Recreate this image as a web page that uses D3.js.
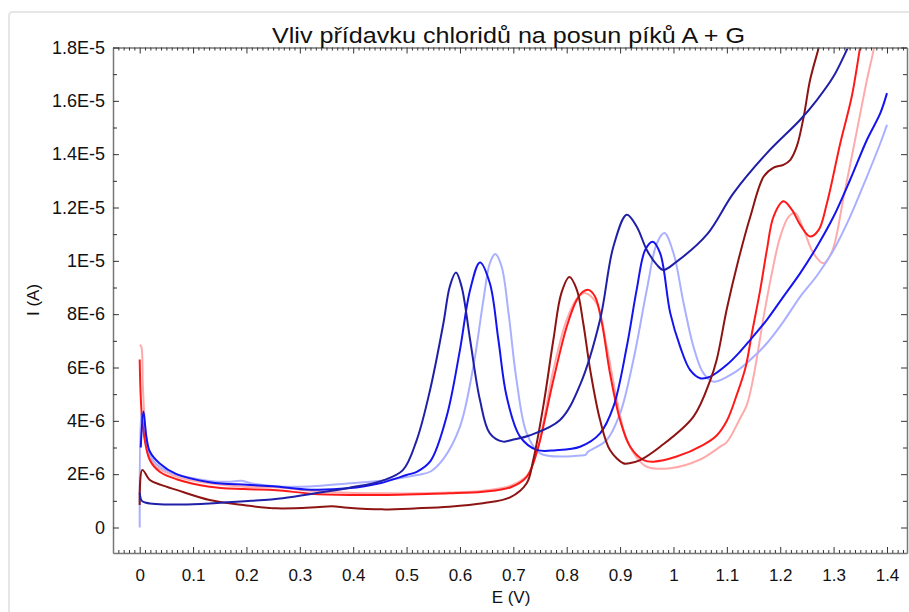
<!DOCTYPE html>
<html>
<head>
<meta charset="utf-8">
<script src="https://cdn.jsdelivr.net/npm/d3@7/dist/d3.min.js"></script>
<style>
  html, body { margin: 0; padding: 0; background: #fff; }
  svg { display: block; }
</style>
</head>
<body>
<svg id="chart" width="909" height="612"></svg>
<script>
// ---- DATA (potential E in V, current in units of 1E-6 A) ----
const titleText = "Vliv přídavku chloridů na posun píků A + G";
const xLabelText = "E (V)";
const yLabelText = "I (A)";

const xTicks = [0, 0.1, 0.2, 0.3, 0.4, 0.5, 0.6, 0.7, 0.8, 0.9, 1, 1.1, 1.2, 1.3, 1.4];
const xTickLabels = ["0", "0.1", "0.2", "0.3", "0.4", "0.5", "0.6", "0.7", "0.8", "0.9", "1", "1.1", "1.2", "1.3", "1.4"];
const yTicks = [0, 2, 4, 6, 8, 10, 12, 14, 16, 18];
const yTickLabels = ["0", "2E-6", "4E-6", "6E-6", "8E-6", "1E-5", "1.2E-5", "1.4E-5", "1.6E-5", "1.8E-5"];

const seriesNames = ["navy", "blue", "lightblue", "darkred", "red", "pink"];
const seriesColors = ["#1f1fa8", "#1414f0", "#aab0ff", "#8e1414", "#ff1a1a", "#ffaaaa"];

const navyE = [0, 0.004, 0.012, 0.03, 0.08, 0.145, 0.21, 0.268, 0.332, 0.393, 0.455, 0.493, 0.519, 0.544, 0.569, 0.581, 0.5925, 0.603, 0.619, 0.6375, 0.656, 0.681, 0.70, 0.73, 0.7875, 0.825, 0.8625, 0.8875, 0.9125, 0.931, 0.95, 0.969, 0.981, 1.006, 1.0625, 1.1125, 1.175, 1.2375, 1.269, 1.3, 1.328, 1.34];
const navyI = [1.3, 1.0, 0.93, 0.88, 0.86, 0.92, 1.0, 1.1, 1.29, 1.49, 1.76, 2.15, 3.28, 5.16, 7.66, 9.04, 9.56, 9.04, 7.04, 4.78, 3.53, 3.22, 3.3, 3.45, 4.03, 5.35, 7.79, 10.54, 11.73, 11.29, 10.41, 9.85, 9.66, 9.97, 10.98, 12.54, 14.04, 15.29, 16.04, 16.92, 18.04, 18.5];

const blueE = [0.002, 0.007, 0.0125, 0.019, 0.0375, 0.069, 0.131, 0.2, 0.25, 0.32, 0.39, 0.45, 0.5, 0.52, 0.545, 0.575, 0.6, 0.619, 0.6375, 0.656, 0.672, 0.6875, 0.7125, 0.744, 0.78, 0.825, 0.8625, 0.8875, 0.9125, 0.931, 0.947, 0.961, 0.975, 0.994, 1.0125, 1.031, 1.05, 1.069, 1.1, 1.125, 1.144, 1.175, 1.206, 1.2375, 1.269, 1.3, 1.331, 1.3625, 1.3875, 1.4];
const blueI = [3.0, 4.35, 3.4, 2.85, 2.4, 2.0, 1.7, 1.6, 1.55, 1.42, 1.47, 1.66, 1.97, 2.1, 2.5, 4.16, 6.66, 8.91, 9.94, 9.16, 7.04, 4.91, 3.41, 2.91, 2.9, 3.03, 3.53, 4.53, 6.78, 8.91, 10.41, 10.72, 10.29, 8.04, 6.78, 5.91, 5.6, 5.66, 6.1, 6.6, 7.04, 7.79, 8.66, 9.54, 10.54, 11.66, 13.04, 14.54, 15.54, 16.29];

const lightblueE = [0, 0.003, 0.008, 0.015, 0.03, 0.06, 0.1, 0.145, 0.17, 0.19, 0.205, 0.22, 0.268, 0.332, 0.393, 0.455, 0.52, 0.545, 0.57, 0.6, 0.625, 0.644, 0.656, 0.666, 0.678, 0.691, 0.706, 0.725, 0.75, 0.8, 0.825, 0.835, 0.84, 0.875, 0.9, 0.925, 0.95, 0.969, 0.983, 1.0, 1.019, 1.0375, 1.056, 1.075, 1.1125, 1.144, 1.175, 1.206, 1.2375, 1.269, 1.3, 1.331, 1.3625, 1.3875, 1.4];
const lightblueI = [0, 4.3, 3.6, 2.9, 2.4, 2.05, 1.85, 1.72, 1.72, 1.75, 1.68, 1.62, 1.53, 1.56, 1.66, 1.76, 1.97, 2.1, 2.6, 3.78, 6.03, 8.54, 9.91, 10.26, 9.79, 8.04, 5.53, 3.53, 2.78, 2.66, 2.7, 2.72, 2.84, 3.28, 4.28, 6.29, 8.91, 10.66, 11.04, 10.29, 8.41, 6.78, 5.79, 5.47, 5.79, 6.29, 6.91, 7.72, 8.66, 9.45, 10.41, 11.66, 13.16, 14.41, 15.1];

const darkredE = [0, 0.005, 0.019, 0.04, 0.069, 0.131, 0.194, 0.256, 0.33, 0.36, 0.39, 0.455, 0.52, 0.58, 0.643, 0.694, 0.725, 0.737, 0.756, 0.775, 0.79, 0.805, 0.819, 0.831, 0.844, 0.8625, 0.881, 0.906, 0.915, 0.9375, 0.975, 1.0375, 1.069, 1.081, 1.1, 1.12, 1.144, 1.169, 1.1875, 1.206, 1.219, 1.231, 1.244, 1.256, 1.272, 1.28];
const darkredI = [0.84, 2.16, 1.78, 1.6, 1.41, 1.03, 0.84, 0.72, 0.76, 0.8, 0.74, 0.68, 0.72, 0.78, 0.91, 1.13, 1.66, 2.5, 4.53, 7.04, 8.79, 9.39, 8.91, 7.66, 5.91, 4.03, 2.91, 2.41, 2.4, 2.53, 3.03, 4.16, 5.53, 6.29, 8.2, 9.9, 11.66, 13.16, 13.5, 13.6, 13.79, 14.29, 15.41, 16.79, 17.98, 18.6];

const redE = [0, 0.006, 0.019, 0.0375, 0.069, 0.131, 0.194, 0.256, 0.32, 0.393, 0.455, 0.52, 0.58, 0.643, 0.694, 0.725, 0.745, 0.775, 0.8, 0.819, 0.831, 0.841, 0.853, 0.866, 0.881, 0.9, 0.919, 0.944, 0.9625, 1.006, 1.056, 1.081, 1.1, 1.119, 1.135, 1.147, 1.1625, 1.175, 1.1875, 1.206, 1.222, 1.2375, 1.256, 1.272, 1.2875, 1.3125, 1.334, 1.349, 1.355];
const redI = [6.3, 3.78, 2.53, 2.09, 1.81, 1.53, 1.44, 1.4, 1.27, 1.22, 1.22, 1.25, 1.28, 1.34, 1.5, 1.9, 2.9, 5.53, 7.53, 8.54, 8.85, 8.91, 8.66, 7.66, 5.79, 4.03, 3.03, 2.53, 2.47, 2.66, 3.1, 3.45, 4.0, 5.0, 6.0, 7.29, 8.91, 10.41, 11.66, 12.23, 11.91, 11.35, 10.91, 11.16, 12.16, 14.41, 16.16, 17.92, 18.6];

const pinkE = [0, 0.003, 0.006, 0.0125, 0.025, 0.069, 0.131, 0.194, 0.26, 0.32, 0.39, 0.455, 0.52, 0.58, 0.643, 0.694, 0.726, 0.745, 0.775, 0.8, 0.822, 0.834, 0.856, 0.875, 0.894, 0.9125, 0.9375, 0.95, 0.994, 1.05, 1.0875, 1.1, 1.125, 1.1375, 1.15, 1.169, 1.184, 1.2, 1.216, 1.228, 1.244, 1.262, 1.281, 1.297, 1.319, 1.344, 1.3625, 1.375, 1.38];
const pinkI = [6.85, 6.78, 5.28, 3.41, 2.41, 1.91, 1.66, 1.53, 1.5, 1.38, 1.3, 1.28, 1.28, 1.31, 1.38, 1.56, 1.95, 2.9, 5.91, 7.79, 8.66, 8.79, 8.41, 6.78, 4.78, 3.28, 2.47, 2.28, 2.22, 2.55, 3.03, 3.2, 4.1, 4.6, 5.66, 7.91, 9.5, 10.91, 11.66, 11.79, 11.16, 10.29, 9.91, 10.35, 12.41, 14.92, 16.79, 17.92, 18.6];

const seriesE = [navyE, blueE, lightblueE, darkredE, redE, pinkE];
const seriesI = [navyI, blueI, lightblueI, darkredI, redI, pinkI];
const drawOrder = [5, 2, 4, 1, 3, 0];

// ---- LAYOUT ----
const svg = d3.select("#chart");
const L = 113, R = 907, T = 47.5, B = 553;

const x = d3.scaleLinear().domain([-0.05, 1.4375]).range([L, R]);
const y = d3.scaleLinear().domain([-0.956, 18]).range([B, T]);

// outer frame (light gray)
svg.append("path")
  .attr("d", `M9,612 L9,16 Q9,12 13,12 L909,12`)
  .attr("fill", "none").attr("stroke", "#e6e6e6").attr("stroke-width", 2);

// clip
svg.append("clipPath").attr("id", "clip")
  .append("rect").attr("x", L).attr("y", T).attr("width", R - L).attr("height", B - T);

// curves
const line = d3.line()
  .x(d => x(d[0]))
  .y(d => y(d[1]))
  .curve(d3.curveCatmullRom.alpha(0.5));

const g = svg.append("g").attr("clip-path", "url(#clip)");
drawOrder.forEach(i => {
  const pts = seriesE[i].map((e, k) => [e, seriesI[i][k]]);
  g.append("path")
    .datum(pts)
    .attr("fill", "none")
    .attr("stroke", seriesColors[i])
    .attr("stroke-width", 2)
    .attr("stroke-linejoin", "round")
    .attr("d", line);
});

// axes
const axisColor = "#777";
const tickColor = "#333";
const fontFam = "'Liberation Sans', Arial, sans-serif";

const xMinor = d3.range(-5, 144).map(v => v / 100).filter(v => Math.abs(Math.round(v * 10) - v * 10) > 1e-6);
const yMinor = [1, 3, 5, 7, 9, 11, 13, 15, 17];

function styleAxis(sel) {
  sel.select(".domain").attr("stroke", axisColor).attr("stroke-width", 1.5);
  sel.selectAll(".tick line").attr("stroke", tickColor);
  sel.selectAll("text").attr("font-family", fontFam).attr("fill", "#111");
}

// bottom
const bx = svg.append("g").attr("transform", `translate(0,${B})`)
  .call(d3.axisBottom(x).tickValues(xTicks).tickFormat((d, i) => xTickLabels[i])
    .tickSize(-6).tickSizeOuter(0).tickPadding(16));
styleAxis(bx);
bx.selectAll("text").attr("font-size", 17);
svg.append("g").attr("transform", `translate(0,${B})`)
  .call(d3.axisBottom(x).tickValues(xMinor).tickFormat("").tickSize(-3).tickSizeOuter(0))
  .call(s => { s.select(".domain").remove(); s.selectAll("line").attr("stroke", tickColor); });

// top
const tx = svg.append("g").attr("transform", `translate(0,${T})`)
  .call(d3.axisTop(x).tickValues(xTicks).tickFormat("").tickSize(-6).tickSizeOuter(0));
styleAxis(tx);
svg.append("g").attr("transform", `translate(0,${T})`)
  .call(d3.axisTop(x).tickValues(xMinor).tickFormat("").tickSize(-3).tickSizeOuter(0))
  .call(s => { s.select(".domain").remove(); s.selectAll("line").attr("stroke", tickColor); });

// left
const ly = svg.append("g").attr("transform", `translate(${L},0)`)
  .call(d3.axisLeft(y).tickValues(yTicks).tickFormat((d, i) => yTickLabels[i])
    .tickSize(-6).tickSizeOuter(0).tickPadding(8));
styleAxis(ly);
ly.selectAll("text").attr("font-size", 18);
svg.append("g").attr("transform", `translate(${L},0)`)
  .call(d3.axisLeft(y).tickValues(yMinor).tickFormat("").tickSize(-4).tickSizeOuter(0))
  .call(s => { s.select(".domain").remove(); s.selectAll("line").attr("stroke", tickColor); });

// right
const ry = svg.append("g").attr("transform", `translate(${R},0)`)
  .call(d3.axisRight(y).tickValues(yTicks).tickFormat("").tickSize(-6).tickSizeOuter(0));
styleAxis(ry);
svg.append("g").attr("transform", `translate(${R},0)`)
  .call(d3.axisRight(y).tickValues(yMinor).tickFormat("").tickSize(-4).tickSizeOuter(0))
  .call(s => { s.select(".domain").remove(); s.selectAll("line").attr("stroke", tickColor); });

// title
svg.append("text")
  .attr("x", 272).attr("y", 43)
  .attr("font-family", fontFam).attr("font-size", 22)
  .attr("textLength", 473).attr("lengthAdjust", "spacingAndGlyphs")
  .attr("fill", "#111")
  .text(titleText);

// axis labels
svg.append("text")
  .attr("x", (L + R) / 2 + 1).attr("y", 603)
  .attr("text-anchor", "middle")
  .attr("font-family", fontFam).attr("font-size", 17).attr("fill", "#111")
  .text(xLabelText);

svg.append("text")
  .attr("transform", "translate(39,300) rotate(-90)")
  .attr("text-anchor", "middle")
  .attr("font-family", fontFam).attr("font-size", 17).attr("fill", "#111")
  .text(yLabelText);
</script>
</body>
</html>
